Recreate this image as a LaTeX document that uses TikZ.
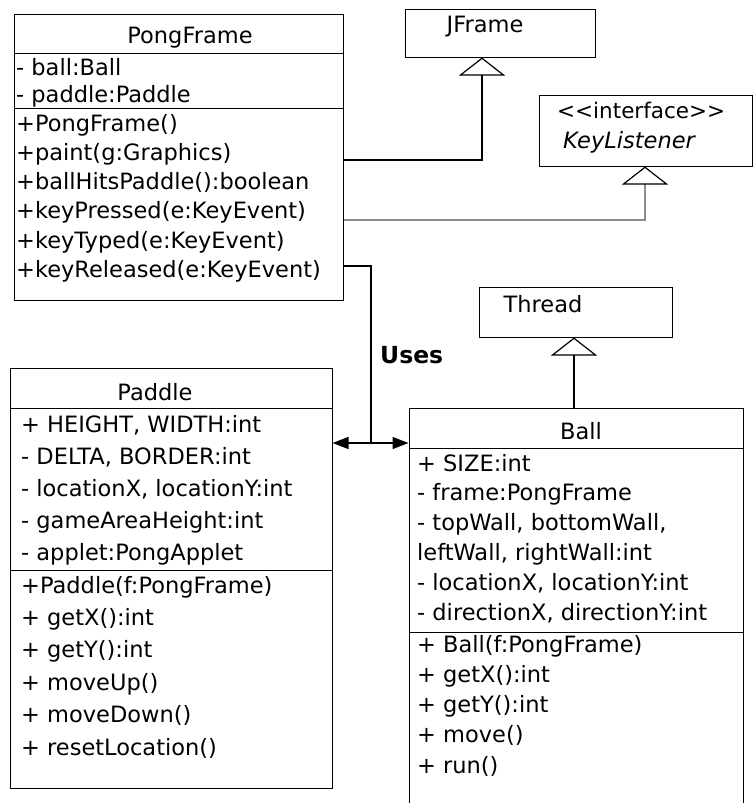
\documentclass[tikz,border=0pt]{standalone}
\usepackage{fontspec}
\setmainfont{DejaVu Sans}
\usetikzlibrary{arrows.meta}
\definecolor{implgray}{RGB}{140,140,140}

\begin{document}
\begin{tikzpicture}[x=1pt,y=1pt,yscale=-1,
  classbox/.style={draw, line width=1pt, inner sep=0pt},
  divider/.style={line width=1pt},
  member/.style={anchor=base west, inner sep=0pt, font=\fontsize{22.5}{27}\selectfont},
  title/.style={anchor=base, inner sep=0pt, font=\fontsize{22.5}{27}\selectfont},
  gen/.style={line width=1.2pt, -{Triangle[open, length=18pt, width=46pt]}},
  uses/.style={line width=1.2pt, -{Triangle[length=16pt, width=12pt]}}]
\useasboundingbox (0,0) rectangle (753,803);

%Shape: class boxes
\node[classbox, minimum width=329pt, minimum height=286pt] (pf) at (178.5,157) {};
\node[classbox, minimum width=190pt, minimum height=48pt] (jfr) at (500,33) {};
\node[classbox, minimum width=213pt, minimum height=71pt] (kl) at (645.5,130.5) {};
\node[classbox, minimum width=193pt, minimum height=50pt] (thr) at (575.5,312) {};
\node[classbox, minimum width=322pt, minimum height=420pt] (pad) at (171,578) {};
\node[classbox, minimum width=334pt, minimum height=412pt] (ball) at (576,614) {};

%Straight Lines: compartments
\draw[divider] (pf.west |- 0,53) -- (pf.east |- 0,53);
\draw[divider] (pf.west |- 0,108) -- (pf.east |- 0,108);
\draw[divider] (pad.west |- 0,408) -- (pad.east |- 0,408);
\draw[divider] (pad.west |- 0,570) -- (pad.east |- 0,570);
\draw[divider] (ball.west |- 0,448) -- (ball.east |- 0,448);
\draw[divider] (ball.west |- 0,632) -- (ball.east |- 0,632);

% Text Node: titles
\node[title] (pfName) at (190,43) {PongFrame};
\node[title] (jfrName) at (485,32) {JFrame};
\node[member, font=\fontsize{21.5}{26}\selectfont] (klStereo) at (557,118) {<\kern0pt<interface>\kern0pt>};
\node[member, font=\fontsize{22.5}{27}\selectfont\itshape] (klName) at (563,148) {KeyListener};
\node[title] (thrName) at (543,312) {Thread};
\node[title] (padName) at (155,400) {Paddle};
\node[title] (ballName) at (581,439) {Ball};

% Text Node: members
\foreach \t [count=\i] in {{- ball:Ball},{- paddle:Paddle}}
  \node[member] (pfAttr\i) at (16,{75+(\i-1)*27}) {\t};
\foreach \t [count=\i] in {{+PongFrame()},{+paint(g:Graphics)},{+ballHitsPaddle():boolean},
    {+keyPressed(e:KeyEvent)},{+keyTyped(e:KeyEvent)},{+keyReleased(e:KeyEvent)}}
  \node[member] (pfOp\i) at (16,{131+(\i-1)*29.3}) {\t};
\foreach \t [count=\i] in {{+ HEIGHT, WIDTH:int},{- DELTA, BORDER:int},
    {- locationX, locationY:int},{- gameAreaHeight:int},{- applet:PongApplet}}
  \node[member] (padAttr\i) at (21,{432+(\i-1)*32}) {\t};
\foreach \t [count=\i] in {{+Paddle(f:PongFrame)},{+ getX():int},{+ getY():int},
    {+ moveUp()},{+ moveDown()},{+ resetLocation()}}
  \node[member] (padOp\i) at (21,{593+(\i-1)*32.4}) {\t};
\foreach \t [count=\i] in {{+ SIZE:int},{- frame:PongFrame},{- topWall, bottomWall,},
    {leftWall, rightWall:int},{- locationX, locationY:int},{- directionX, directionY:int}}
  \node[member] (ballAttr\i) at (417,{471+(\i-1)*29.8}) {\t};
\foreach \t [count=\i] in {{+ Ball(f:PongFrame)},{+ getX():int},{+ getY():int},
    {+ move()},{+ run()}}
  \node[member] (ballOp\i) at (417,{652+(\i-1)*30.25}) {\t};

%Straight Lines: generalization
\draw[gen] (pf.east |- 0,160) -| (jfr.south -| 482,0);
\draw[gen, implgray, -{Triangle[open, length=18pt, width=46pt, color=black]}] (pf.east |- 0,220) -| (kl.south -| 645,0);
\draw[gen] (ball.north -| 574,0) -- (thr.south -| 574,0);

%Straight Lines: uses
\coordinate (usesJoin) at (371,443);
\draw[line width=1.2pt] (pf.east |- 0,266) -| (usesJoin);
\draw[uses] (usesJoin) -- (pad.east |- usesJoin);
\draw[uses] (usesJoin) -- (ball.west |- usesJoin);
\node[member, font=\fontsize{23.5}{28}\selectfont\bfseries] (usesLabel) at (380,363) {Uses};
\end{tikzpicture}
\end{document}
